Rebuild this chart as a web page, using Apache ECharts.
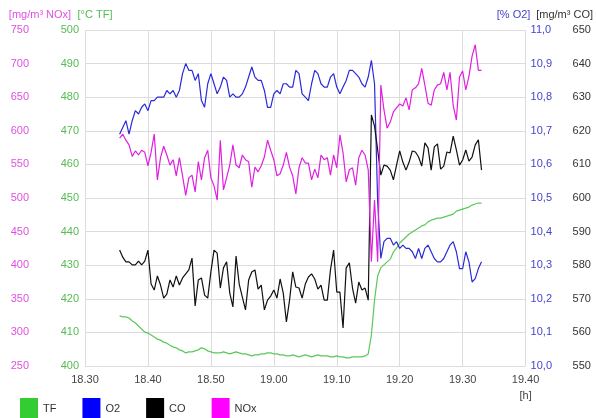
<!DOCTYPE html>
<html>
<head>
<meta charset="utf-8">
<script src="https://cdn.jsdelivr.net/npm/echarts@6/dist/echarts.min.js"></script>
<style>
html, body { margin: 0; padding: 0; background: #fff; }
#main { width: 596px; height: 418px; }
</style>
</head>
<body>
<div id="main"></div>
<script>
// sample times, minutes after 18:00
var minutes = [35.5, 36, 36.5, 37, 37.5, 38, 38.5, 39, 39.5, 40,
    40.5, 41, 41.5, 42, 42.5, 43, 43.5, 44, 44.5, 45,
    45.5, 46, 46.5, 47, 47.5, 48, 48.5, 49, 49.5, 50,
    50.5, 51, 51.5, 52, 52.5, 53, 53.5, 54, 54.5, 55,
    55.5, 56, 56.5, 57, 57.5, 58, 58.5, 59, 59.5, 60,
    60.5, 61, 61.5, 62, 62.5, 63, 63.5, 64, 64.5, 65,
    65.5, 66, 66.5, 67, 67.5, 68, 68.5, 69, 69.5, 70,
    70.5, 71, 71.5, 72, 72.5, 73, 73.5, 74, 74.5, 75,
    75.5, 76, 76.5, 77, 77.5, 78, 78.5, 79, 79.5, 80,
    80.5, 81, 81.5, 82, 82.5, 83, 83.5, 84, 84.5, 85,
    85.5, 86, 86.5, 87, 87.5, 88, 88.5, 89, 89.5, 90,
    90.5, 91, 91.5, 92, 92.5, 93];

var tf_values = [414.9, 414.6, 414.6, 414.3, 413.4, 412.8, 411.9, 411.0, 410.1, 409.8,
    409.2, 408.6, 408.0, 407.7, 407.1, 406.8, 406.2, 405.7, 405.4, 404.8,
    404.5, 403.9, 404.2, 404.2, 404.5, 404.8, 405.4, 405.1, 404.5, 404.2,
    403.9, 403.9, 403.9, 404.2, 403.9, 403.6, 403.9, 404.2, 403.9, 403.6,
    403.6, 403.3, 403.0, 403.3, 403.3, 403.6, 403.6, 403.9, 403.9, 403.6,
    403.6, 403.3, 403.3, 403.0, 403.0, 403.3, 403.0, 402.7, 403.0, 403.3,
    403.0, 402.7, 403.0, 403.3, 403.0, 403.0, 403.0, 402.7, 402.7, 403.0,
    402.7, 402.7, 402.4, 402.4, 402.7, 402.7, 402.7, 402.7, 403.0, 403.6,
    409.2, 419.6, 426.8, 429.2, 430.1, 431.0, 431.8, 433.9, 435.1, 436.6,
    437.5, 438.4, 439.3, 439.9, 440.5, 441.1, 441.7, 442.0, 442.9, 443.4,
    443.7, 444.0, 444.0, 444.3, 444.6, 444.9, 445.2, 446.1, 446.4, 446.7,
    447.0, 447.3, 447.9, 448.2, 448.5, 448.5];

var o2_values = [10.69, 10.71, 10.73, 10.69, 10.73, 10.76, 10.75, 10.77, 10.78, 10.76,
    10.79, 10.79, 10.80, 10.80, 10.80, 10.82, 10.81, 10.82, 10.80, 10.82,
    10.87, 10.90, 10.88, 10.88, 10.85, 10.87, 10.79, 10.77, 10.84, 10.87,
    10.84, 10.81, 10.83, 10.86, 10.85, 10.80, 10.81, 10.80, 10.80, 10.81,
    10.83, 10.86, 10.89, 10.86, 10.85, 10.85, 10.82, 10.77, 10.77, 10.81,
    10.82, 10.81, 10.84, 10.84, 10.83, 10.83, 10.88, 10.87, 10.81, 10.80,
    10.79, 10.84, 10.88, 10.87, 10.84, 10.83, 10.83, 10.86, 10.87, 10.83,
    10.81, 10.83, 10.85, 10.88, 10.88, 10.87, 10.86, 10.84, 10.83, 10.86,
    10.91, 10.84, 10.49, 10.32, 10.37, 10.38, 10.38, 10.36, 10.37, 10.35,
    10.36, 10.35, 10.35, 10.34, 10.32, 10.35, 10.32, 10.35, 10.36, 10.34,
    10.32, 10.31, 10.31, 10.32, 10.34, 10.36, 10.37, 10.34, 10.29, 10.29,
    10.34, 10.31, 10.25, 10.26, 10.29, 10.31];

var co_values = [584.5, 582.4, 581.0, 581.0, 580.1, 580.1, 581.2, 580.1, 581.2, 584.5,
    574.4, 572.6, 576.8, 574.1, 570.2, 571.4, 575.6, 573.5, 576.8, 574.1,
    576.2, 577.4, 578.6, 582.1, 567.9, 575.6, 576.2, 571.1, 570.2, 578.0,
    584.5, 583.6, 573.2, 579.2, 581.0, 571.7, 567.6, 582.7, 574.4, 570.5,
    566.7, 575.6, 578.0, 578.6, 572.9, 574.1, 566.7, 569.6, 570.8, 572.6,
    570.2, 575.9, 571.7, 563.1, 569.6, 578.0, 573.5, 573.2, 570.2, 574.4,
    576.5, 577.4, 575.9, 572.9, 574.1, 569.6, 569.6, 578.6, 584.5, 572.0,
    572.0, 561.3, 579.2, 580.7, 573.2, 568.7, 575.0, 572.6, 573.2, 569.6,
    624.7, 621.4, 614.3, 606.8, 609.8, 609.5, 608.3, 605.4, 609.8, 614.0,
    610.7, 608.3, 610.7, 614.0, 613.7, 612.2, 609.5, 616.4, 614.9, 608.3,
    615.2, 616.1, 608.6, 609.5, 613.7, 613.4, 618.4, 614.3, 609.8, 611.3,
    614.3, 611.0, 612.2, 615.8, 617.3, 608.3];

var nox_values = [589, 595, 586, 579, 562, 570, 564, 571, 568, 548,
    568, 595, 527, 560, 577, 564, 549, 557, 533, 560,
    533, 504, 530, 534, 509, 554, 527, 560, 571, 530,
    518, 497, 586, 512, 530, 549, 579, 549, 545, 564,
    557, 554, 516, 546, 539, 548, 561, 586, 571, 557,
    533, 536, 549, 568, 546, 533, 506, 545, 560, 552,
    552, 527, 543, 530, 564, 557, 560, 534, 564, 545,
    594, 567, 524, 542, 545, 519, 560, 571, 564, 542,
    405, 497, 405, 668, 631, 604, 613, 628, 634, 640,
    637, 649, 631, 661, 664, 670, 693, 668, 641, 638,
    661, 668, 670, 687, 661, 687, 638, 616, 680, 689,
    661, 681, 711, 728, 690, 690];

var series_names = ['TF', 'O2', 'CO', 'NOx'];

var myChart = echarts.init(document.getElementById('main'));

function pairs(vals) {
    return vals.map(function (v, i) { return [minutes[i], v]; });
}
function clock(v) {
    var h = 18 + Math.floor(v / 60);
    var m = Math.round(v % 60);
    return h + '.' + (m < 10 ? '0' : '') + m;
}

var font = 'Liberation Sans';

var option = {
    animation: false,
    backgroundColor: '#fff',
    textStyle: { fontFamily: font },
    grid: { left: 85, right: 69, top: 30, bottom: 52 },
    legend: {
        left: 20,
        top: 398,
        padding: 0,
        icon: 'rect',
        itemWidth: 18,
        itemHeight: 22,
        itemGap: 26,
        textStyle: { fontSize: 11, color: '#333', fontFamily: font },
        data: [
            { name: 'TF', itemStyle: { color: '#33cc33' } },
            { name: 'O2', itemStyle: { color: '#0000ff' } },
            { name: 'CO', itemStyle: { color: '#000000' } },
            { name: 'NOx', itemStyle: { color: '#ff00ff' } }
        ]
    },
    xAxis: {
        type: 'value',
        min: 30,
        max: 100,
        interval: 10,
        name: '[h]',
        nameLocation: 'end',
        nameGap: 0,
        nameTextStyle: { fontSize: 11, color: '#444', align: 'center', verticalAlign: 'top', padding: [24, 0, 0, 0] },
        axisLine: { show: false },
        axisTick: { show: false },
        axisLabel: { formatter: clock, fontSize: 11, color: '#444', margin: 8 },
        splitLine: { show: true, lineStyle: { color: '#dcdcdc' } }
    },
    yAxis: [
        {
            type: 'value', position: 'left', offset: 51,
            min: 250, max: 750, interval: 50,
            name: '[mg/m³ NOx]', nameGap: 10,
            nameTextStyle: { fontSize: 11, color: '#e050e0', padding: [0, 0, 0, 12] },
            axisLine: { show: false }, axisTick: { show: false },
            axisLabel: { fontSize: 11, color: '#e050e0', margin: 5 },
            splitLine: { show: false }
        },
        {
            type: 'value', position: 'left', offset: 0,
            min: 400, max: 500, interval: 10,
            name: '[°C TF]', nameGap: 10,
            nameTextStyle: { fontSize: 11, color: '#55bb55', padding: [0, 0, 0, 20] },
            axisLine: { show: false }, axisTick: { show: false },
            axisLabel: { fontSize: 11, color: '#55bb55', margin: 6 },
            splitLine: { show: true, lineStyle: { color: '#dcdcdc' } }
        },
        {
            type: 'value', position: 'right', offset: 0,
            min: 10, max: 11, interval: 0.1,
            name: '[% O2]', nameGap: 10,
            nameTextStyle: { fontSize: 11, color: '#4444cc', padding: [0, 24, 0, 0] },
            axisLine: { show: false }, axisTick: { show: false },
            axisLabel: {
                fontSize: 11, color: '#4444cc', margin: 5,
                formatter: function (v) { return v.toFixed(1).replace('.', ','); }
            },
            splitLine: { show: false }
        },
        {
            type: 'value', position: 'right', offset: 42,
            min: 550, max: 650, interval: 10,
            name: '[mg/m³ CO]', nameGap: 10,
            nameTextStyle: { fontSize: 11, color: '#333', padding: [0, 6, 0, 0] },
            axisLine: { show: false }, axisTick: { show: false },
            axisLabel: { fontSize: 11, color: '#333', margin: 5 },
            splitLine: { show: false }
        }
    ],
    series: [
        {
            name: series_names[0], type: 'line', yAxisIndex: 1,
            data: pairs(tf_values), showSymbol: false,
            color: '#5cc85c', lineStyle: { width: 1.2, color: '#5cc85c' }
        },
        {
            name: series_names[1], type: 'line', yAxisIndex: 2,
            data: pairs(o2_values), showSymbol: false,
            color: '#2a2ad8', lineStyle: { width: 1.2, color: '#2a2ad8' }
        },
        {
            name: series_names[2], type: 'line', yAxisIndex: 3,
            data: pairs(co_values), showSymbol: false,
            color: '#111', lineStyle: { width: 1.2, color: '#111' }
        },
        {
            name: series_names[3], type: 'line', yAxisIndex: 0,
            data: pairs(nox_values), showSymbol: false,
            color: '#e020e0', lineStyle: { width: 1.2, color: '#e020e0' }
        }
    ]
};

myChart.setOption(option);
</script>
</body>
</html>
